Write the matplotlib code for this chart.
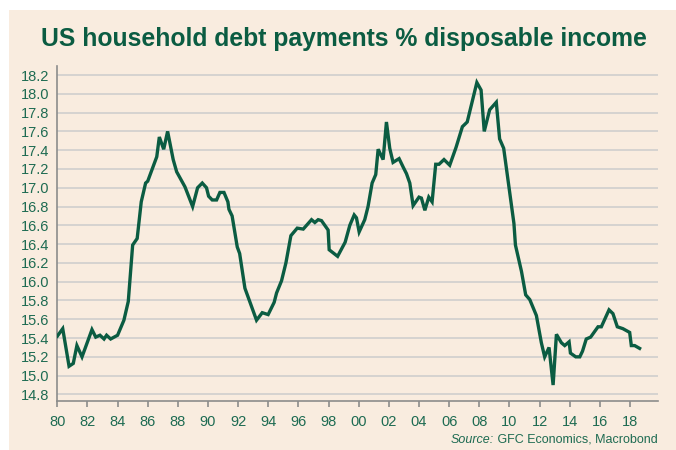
import matplotlib
matplotlib.use('Agg')
import matplotlib.pyplot as plt
import numpy as np

# values (decimal year, % of disposable income)
years = [1980.0, 1980.36, 1980.78, 1981.06, 1981.3, 1981.64, 1982.3, 1982.55, 1982.83,
         1983.1, 1983.27, 1983.54, 1984.0, 1984.42, 1984.71, 1985.0, 1985.3, 1985.57,
         1985.86, 1986.0, 1986.6, 1986.77, 1987.06, 1987.32, 1987.69, 1987.92, 1988.47,
         1988.98, 1989.31, 1989.62, 1989.9, 1990.04, 1990.28, 1990.57, 1990.79, 1991.06,
         1991.32, 1991.39, 1991.6, 1991.94, 1992.1, 1992.45, 1993.22, 1993.6, 1993.99,
         1994.39, 1994.55, 1994.88, 1995.17, 1995.5, 1995.92, 1996.32, 1996.87, 1997.09,
         1997.31, 1997.53, 1997.97, 1998.04, 1998.6, 1999.1, 1999.41, 1999.7, 1999.85,
         2000.03, 2000.4, 2000.62, 2000.89, 2001.13, 2001.29, 2001.62, 2001.84, 2002.06,
         2002.28, 2002.68, 2002.95, 2003.17, 2003.39, 2003.61, 2004.0, 2004.16, 2004.39,
         2004.65, 2004.87, 2005.11, 2005.33, 2005.66, 2006.04, 2006.46, 2006.88, 2007.2,
         2007.84, 2008.12, 2008.33, 2008.69, 2009.13, 2009.35, 2009.62, 2010.3, 2010.4,
         2010.8, 2011.08, 2011.35, 2011.79, 2012.12, 2012.34, 2012.63, 2012.9, 2013.12,
         2013.45, 2013.67, 2013.96, 2014.05, 2014.4, 2014.67, 2014.85, 2015.1, 2015.39,
         2015.88, 2016.1, 2016.61, 2016.87, 2017.16, 2017.53, 2017.98, 2018.09, 2018.31,
         2018.64]
ratio = [15.42, 15.50, 15.10, 15.13, 15.32, 15.20, 15.49, 15.41, 15.43,
         15.39, 15.43, 15.39, 15.43, 15.59, 15.79, 16.39, 16.46, 16.85,
         17.05, 17.07, 17.33, 17.54, 17.41, 17.60, 17.30, 17.17, 17.01,
         16.80, 17.00, 17.05, 17.00, 16.91, 16.87, 16.87, 16.95, 16.95,
         16.85, 16.77, 16.70, 16.37, 16.30, 15.93, 15.59, 15.67, 15.65,
         15.78, 15.88, 16.01, 16.20, 16.49, 16.57, 16.56, 16.66, 16.63,
         16.66, 16.65, 16.55, 16.34, 16.27, 16.42, 16.60, 16.71, 16.68,
         16.53, 16.66, 16.80, 17.05, 17.14, 17.41, 17.30, 17.70, 17.42,
         17.27, 17.31, 17.22, 17.15, 17.05, 16.81, 16.90, 16.89, 16.76,
         16.90, 16.85, 17.25, 17.25, 17.30, 17.24, 17.43, 17.65, 17.70,
         18.12, 18.04, 17.60, 17.83, 17.91, 17.52, 17.42, 16.62, 16.39,
         16.11, 15.86, 15.81, 15.64, 15.35, 15.20, 15.30, 14.90, 15.44,
         15.35, 15.32, 15.36, 15.24, 15.20, 15.20, 15.26, 15.39, 15.41,
         15.52, 15.52, 15.70, 15.66, 15.52, 15.50, 15.46, 15.32, 15.32,
         15.29]

x_ticks = list(range(1980, 2019, 2))
x_labels = ['%02d' % (y % 100) for y in x_ticks]
y_ticks = np.round(np.arange(14.8, 18.21, 0.2), 1)

bg = '#F9ECDF'
green = '#0B5C42'
text_green = '#1E6B52'

fig = plt.figure(figsize=(6.76, 4.5), dpi=100)
fig.patch.set_facecolor('white')
# beige panel, white strip on left and top
fig.patches.append(plt.Rectangle((9 / 676, 0), 1, 1 - 10 / 450, transform=fig.transFigure,
                                 facecolor=bg, edgecolor='none', zorder=-5))

ax = fig.add_axes([57.3 / 676, 1 - 401 / 450, (658 - 57.3) / 676, (401 - 66) / 450])
ax.set_facecolor(bg)
ax.plot(years, ratio, color=green, lw=2.4, solid_joinstyle='miter', zorder=3)

ax.set_xlim(1980, 2019.86)
ax.set_ylim(14.73, 18.296)
ax.set_xticks(x_ticks)
ax.set_xticklabels(x_labels)
ax.set_yticks(y_ticks)
ax.set_yticklabels(['%.1f' % v for v in y_ticks])

ax.grid(axis='y', color='#D6D3D0', lw=1.4)
ax.set_axisbelow(True)
for s in ['top', 'right']:
    ax.spines[s].set_visible(False)
for s in ['left', 'bottom']:
    ax.spines[s].set_color('#8C8C8C')
    ax.spines[s].set_linewidth(1.2)

ax.tick_params(axis='x', colors='#8C8C8C', length=4, width=1.2, direction='out', pad=6,
               labelcolor=text_green, labelsize=10.5)
ax.tick_params(axis='y', length=0, pad=6, labelcolor=text_green, labelsize=10.5)
for lbl in ax.get_xticklabels() + ax.get_yticklabels():
    lbl.set_family('Liberation Sans')

fig.text(344 / 676, 1 - 39 / 450, 'US household debt payments % disposable income',
         ha='center', va='center', fontsize=17.8, fontweight='bold', color=green,
         family='Liberation Sans')
src = fig.text(658 / 676, 1 - 440 / 450, ' GFC Economics, Macrobond', ha='right', va='center',
               fontsize=9.0, color=text_green, family='Liberation Sans')
fig.canvas.draw()
bb = src.get_window_extent()
fig.text(bb.x0 / fig.bbox.width, 1 - 440 / 450, 'Source:', ha='right', va='center',
         fontsize=9.0, color=text_green, family='Liberation Sans', style='italic')

fig.savefig('out.png', dpi=100, facecolor=fig.get_facecolor())
